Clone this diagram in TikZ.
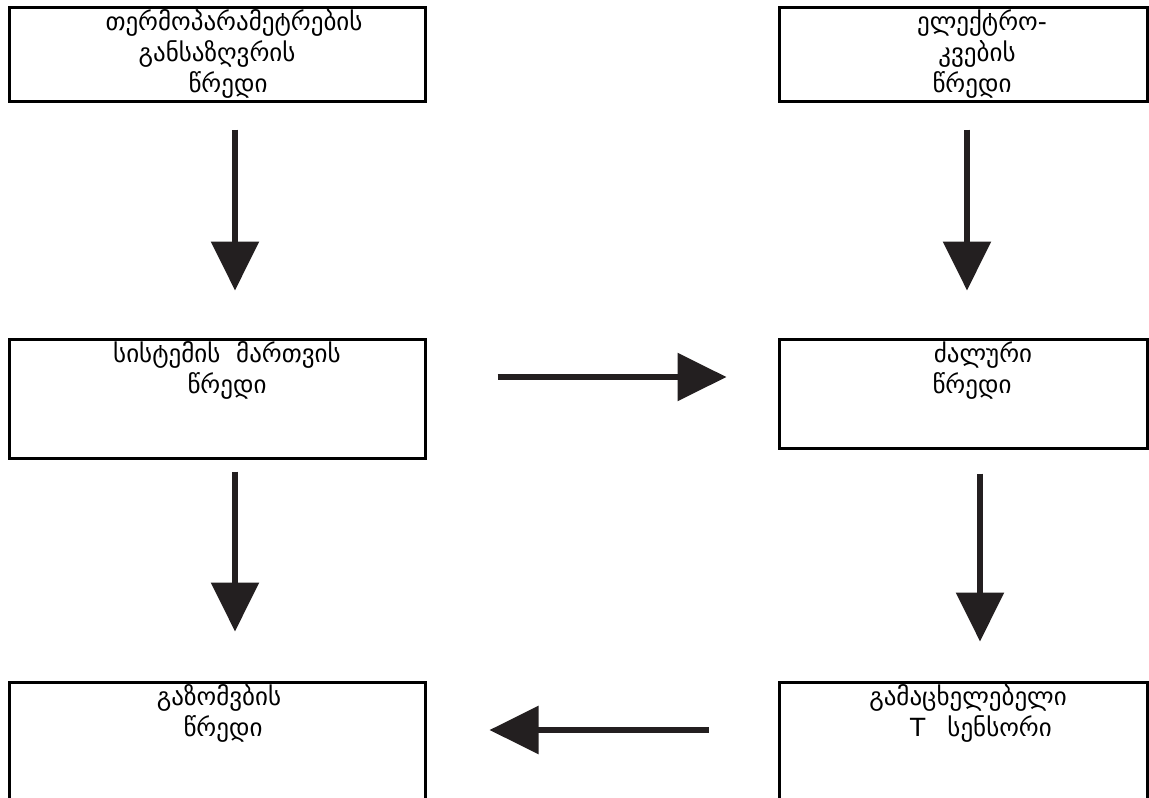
\documentclass[tikz,border=0pt]{standalone}
\usepackage{fontspec}
\setmainfont{DejaVu Sans}
\usetikzlibrary{arrows.meta}
\definecolor{arrowc}{RGB}{35,31,32}
\begin{document}
\begin{tikzpicture}[x=1pt,y=-1pt,
  box/.style={draw=black,line width=3pt,rectangle,inner sep=0pt},
  lbl/.style={anchor=north,inner sep=0pt,align=center,font=\fontsize{25}{31}\selectfont},
  arr/.style={draw=arrowc,line width=6pt,-{Triangle[width=47pt,length=49pt]}}]
\useasboundingbox (0,0) rectangle (1149,798);
\clip (0,0) rectangle (1149,798);
% boxes
\node[box,minimum width=416pt,minimum height=94pt] (tl) at (217,54) {};
\node[box,minimum width=368pt,minimum height=94pt] (tr) at (963,54) {};
\node[box,minimum width=416pt,minimum height=119pt] (ml) at (217,398.5) {};
\node[box,minimum width=368pt,minimum height=109pt] (mr) at (963,393.5) {};
\node[box,minimum width=416pt,minimum height=140pt] (bl) at (217,752) {};
\node[box,minimum width=368pt,minimum height=140pt] (br) at (963,752) {};
% labels
\node[lbl] (tlt) at (217,9) {\hspace*{34pt}თერმოპარამეტრების\\განსაზღვრის\\\hspace*{22pt}წრედი};
\node[lbl] (trt) at (977,9) {\hspace*{10pt}ელექტრო-\\კვების\\წრედი\hspace*{10pt}};
\node[lbl] (mlt) at (227,341) {სისტემის\ \ მართვის\\წრედი};
\node[lbl] (mrt) at (977,341) {\hspace*{12pt}ძალური\\წრედი\hspace*{10pt}};
\node[lbl] (blt) at (219,684) {გაზომვბის\\\hspace*{8pt}წრედი};
\node[lbl] (brt) at (968,684) {გამაცხელებელი\\\hspace*{26pt}T\hspace*{22pt}სენსორი};
% arrows
\draw[arr] ([xshift=18pt,yshift=-27pt]tl.south) -- ([xshift=18pt,yshift=47pt]ml.north);
\draw[arr] ([xshift=4pt,yshift=-27pt]tr.south) -- ([xshift=4pt,yshift=47pt]mr.north);
\draw[arr] ([xshift=71pt,yshift=21.5pt]ml.east) -- ([xshift=-51pt,yshift=16.5pt]mr.west);
\draw[arr] ([xshift=18pt,yshift=-12pt]ml.south) -- ([xshift=18pt,yshift=49pt]bl.north);
\draw[arr] ([xshift=17pt,yshift=-24pt]mr.south) -- ([xshift=17pt,yshift=39pt]br.north);
\draw[arr] ([xshift=-69pt,yshift=22pt]br.west) -- ([xshift=63pt,yshift=22pt]bl.east);
\end{tikzpicture}
\end{document}
